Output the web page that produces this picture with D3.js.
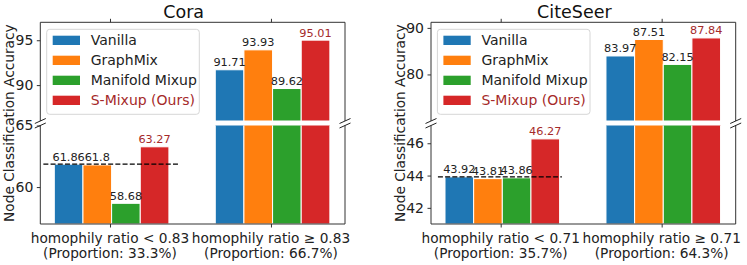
<!DOCTYPE html>
<html><head><meta charset="utf-8">
<script src="https://cdn.jsdelivr.net/npm/d3@7"></script>
<style>body{margin:0;background:#fff}svg{display:block;font-family:"DejaVu Sans",sans-serif}</style>
</head><body><svg id="c" width="747" height="265"></svg>
<script>
const methods = ["Vanilla", "GraphMix", "Manifold Mixup", "S-Mixup (Ours)"];
const colors = ["#1f77b4", "#ff7f0e", "#2ca02c", "#d62728"];
const titles = ["Cora", "CiteSeer"];
const groupLabelsCora = [["homophily ratio < 0.83", "(Proportion: 33.3%)"], ["homophily ratio ≥ 0.83", "(Proportion: 66.7%)"]];
const groupLabelsCite = [["homophily ratio < 0.71", "(Proportion: 35.7%)"], ["homophily ratio ≥ 0.71", "(Proportion: 64.3%)"]];
const coraLow = [61.86, 61.8, 58.68, 63.27];
const coraHigh = [91.71, 93.93, 89.62, 95.01];
const citeLow = [43.92, 43.81, 43.86, 46.27];
const citeHigh = [83.97, 87.51, 82.15, 87.84];
const coraUpperTicks = [90, 95], coraLowerTicks = [60, 65];
const citeUpperTicks = [80, 90], citeLowerTicks = [42, 44, 46];
const coraUpperDomain = [86, 97], coraLowerDomain = [57, 65];
const citeUpperDomain = [70, 91.2], citeLowerDomain = [41, 47.1];
const coraBaseline = 61.86, citeBaseline = 43.92;
const coraDashX = [-0.414, 0.435], citeDashX = [-0.39, 0.38];

const panels = [
  {title: titles[0], low: coraLow, high: coraHigh, labels: groupLabelsCora, ut: coraUpperTicks, lt: coraLowerTicks, ud: coraUpperDomain, ld: coraLowerDomain, base: coraBaseline, dash: coraDashX, x0: 40.3},
  {title: titles[1], low: citeLow, high: citeHigh, labels: groupLabelsCite, ut: citeUpperTicks, lt: citeLowerTicks, ud: citeUpperDomain, ld: citeLowerDomain, base: citeBaseline, dash: citeDashX, x0: 431}
];

const svg = d3.select("#c");
const W = 304.7, upTop = 22.3, upBot = 121, loTop = 125.5, loBot = 224;
const barW = 0.178, fs = 13.7, ours = "#a52a2a", spine = "#333";

panels.forEach((p, pi) => {
  const x = d3.scaleLinear().domain([-0.433, 1.46]).range([p.x0, p.x0 + W]);
  const yU = d3.scaleLinear().domain(p.ud).range([upBot, upTop]);
  const yL = d3.scaleLinear().domain(p.ld).range([loBot, loTop]);
  const g = svg.append("g");
  const defs = svg.append("defs");
  defs.append("clipPath").attr("id", "cu" + pi).append("rect").attr("x", p.x0).attr("y", upTop).attr("width", W).attr("height", upBot - upTop);
  defs.append("clipPath").attr("id", "cl" + pi).append("rect").attr("x", p.x0).attr("y", loTop).attr("width", W).attr("height", loBot - loTop);

  const bars = [];
  [p.low, p.high].forEach((vals, gi) => vals.forEach((v, i) => bars.push({gi, i, v})));
  const bx = d => x(d.gi + 0.01 + (d.i - 1.5) * barW - barW / 2);
  const bw = x(barW) - x(0);

  [[yU, "cu"], [yL, "cl"]].forEach(([y, cid]) => {
    g.append("g").attr("clip-path", `url(#${cid}${pi})`).selectAll("rect").data(bars).join("rect")
      .attr("x", bx).attr("width", bw)
      .attr("y", d => y(d.v)).attr("height", d => Math.max(0, y(y.domain()[0]) - y(d.v)))
      .attr("fill", d => colors[d.i]).attr("stroke", "#fff").attr("stroke-width", 1);
  });

  // dashed baseline
  g.append("line").attr("x1", x(p.dash[0])).attr("x2", x(p.dash[1]))
    .attr("y1", yL(p.base)).attr("y2", yL(p.base))
    .attr("stroke", "#000").attr("stroke-width", 1.3).attr("stroke-dasharray", "5,2.2");

  // value labels
  g.selectAll("text.val").data(bars).join("text").attr("class", "val")
    .attr("x", d => bx(d) + bw / 2)
    .attr("y", d => (d.gi === 0 ? yL(d.v) : yU(d.v)) - 3.5)
    .attr("text-anchor", "middle").attr("font-size", 11.3)
    .attr("fill", d => d.i === 3 ? ours : "#222").text(d => String(d.v));

  // spines
  const sp = g.append("g").attr("stroke", spine).attr("stroke-width", 1).attr("fill", "none");
  sp.append("path").attr("d", `M${p.x0},${upBot}V${upTop}H${p.x0 + W}V${upBot}`);
  sp.append("path").attr("d", `M${p.x0},${loTop}V${loBot}H${p.x0 + W}V${loTop}`);
  // break marks
  [upBot, loTop].forEach(yy => [p.x0, p.x0 + W].forEach(xx => {
    sp.append("line").attr("x1", xx - 5.5).attr("y1", yy + 2.5).attr("x2", xx + 5.5).attr("y2", yy - 2.5).attr("stroke", "#222");
  }));

  // y axes
  const yAxU = d3.axisLeft(yU).tickValues(p.ut).tickSize(3.5).tickPadding(3.5).tickFormat(d3.format("d"));
  const yAxL = d3.axisLeft(yL).tickValues(p.lt).tickSize(3.5).tickPadding(3.5).tickFormat(d3.format("d"));
  [[yAxU], [yAxL]].forEach(([ax]) => {
    const a = g.append("g").attr("transform", `translate(${p.x0},0)`).call(ax);
    a.select(".domain").remove();
    a.selectAll("line").attr("stroke", spine);
    a.selectAll("text").attr("font-size", 14).attr("fill", "#222").attr("font-family", "DejaVu Sans");
  });

  // x axes: top ticks on upper, bottom ticks+labels on lower
  const xt = g.append("g").attr("transform", `translate(0,${upTop})`).call(d3.axisTop(x).tickValues([0, 1]).tickSize(3.5).tickFormat(""));
  xt.select(".domain").remove(); xt.selectAll("line").attr("stroke", spine);
  const xb = g.append("g").attr("transform", `translate(0,${loBot})`).call(d3.axisBottom(x).tickValues([0, 1]).tickSize(3.5).tickFormat(""));
  xb.select(".domain").remove(); xb.selectAll("line").attr("stroke", spine);
  [0, 1].forEach(t => {
    const tx = g.append("text").attr("x", x(t)).attr("y", 242.5).attr("text-anchor", "middle").attr("font-size", fs).attr("fill", "#222");
    tx.append("tspan").attr("x", x(t)).text(p.labels[t][0]);
    tx.append("tspan").attr("x", x(t)).attr("dy", 15.5).text(p.labels[t][1]);
  });

  // title
  g.append("text").attr("x", p.x0 + W / 2 - 9).attr("y", 17.5).attr("text-anchor", "middle").attr("font-size", 17.5).attr("fill", "#111").text(p.title);
  // y label
  g.append("text").attr("transform", `translate(${p.x0 - 26},${(upTop + loBot) / 2}) rotate(-90)`)
    .attr("text-anchor", "middle").attr("font-size", fs).attr("fill", "#222").text("Node Classification Accuracy");

  // legend
  const lx = p.x0 + 6.4, ly = 29.3;
  const lg = g.append("g");
  lg.append("rect").attr("x", lx).attr("y", ly).attr("width", 152.6).attr("height", 85).attr("rx", 3)
    .attr("fill", "#fff").attr("fill-opacity", 0.8).attr("stroke", "#d6d6d6").attr("stroke-width", 1);
  methods.forEach((m, i) => {
    const cy = ly + 11 + i * 20;
    lg.append("rect").attr("x", lx + 6).attr("y", cy - 4.6).attr("width", 27.3).attr("height", 9.3).attr("fill", colors[i]);
    lg.append("text").attr("x", lx + 44).attr("y", cy).attr("dy", "0.35em").attr("font-size", 14)
      .attr("fill", i === 3 ? ours : "#222").text(m);
  });
});
</script></body></html>
